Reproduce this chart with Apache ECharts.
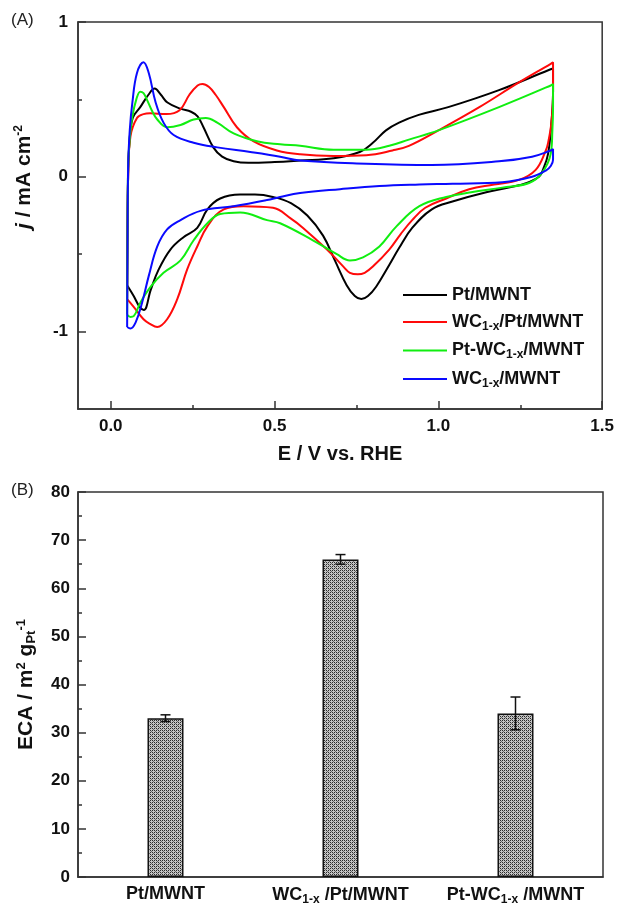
<!DOCTYPE html>
<html>
<head>
<meta charset="utf-8">
<script src="https://cdn.jsdelivr.net/npm/echarts@6/dist/echarts.min.js"></script>
<style>
  html, body { margin: 0; padding: 0; background: #fff; }
  #chart { width: 617px; height: 906px; }
</style>
</head>
<body>
<div id="chart"></div>
<script>
// (A) cyclic voltammograms, [E / V, j / mA cm-2], anodic sweep then cathodic sweep
const ptMwnt = [
  [0.05, -0.70], [0.051, -0.35], [0.053, 0.0], [0.057, 0.22], [0.067, 0.38], [0.09, 0.45], [0.115, 0.53],
  [0.134, 0.57], [0.153, 0.53], [0.173, 0.48], [0.213, 0.44], [0.245, 0.42], [0.265, 0.39], [0.283, 0.32],
  [0.313, 0.19], [0.34, 0.13], [0.375, 0.10], [0.42, 0.09], [0.5, 0.095], [0.578, 0.105], [0.68, 0.12],
  [0.76, 0.16], [0.8, 0.22], [0.84, 0.30], [0.88, 0.35], [0.94, 0.40], [1.03, 0.45], [1.185, 0.56],
  [1.337, 0.69], [1.35, 0.70],
  [1.35, 0.55], [1.345, 0.35], [1.335, 0.15], [1.32, 0.05], [1.307, 0.0], [1.27, -0.04], [1.246, -0.055],
  [1.146, -0.10], [1.043, -0.16], [0.98, -0.21], [0.92, -0.33], [0.88, -0.46], [0.85, -0.57], [0.81, -0.71],
  [0.785, -0.77], [0.765, -0.79], [0.745, -0.77], [0.72, -0.70], [0.684, -0.54], [0.648, -0.38], [0.60, -0.25],
  [0.55, -0.17], [0.495, -0.13], [0.44, -0.115], [0.395, -0.115], [0.334, -0.14], [0.295, -0.21], [0.264, -0.33],
  [0.222, -0.39], [0.182, -0.47], [0.146, -0.60], [0.122, -0.73], [0.101, -0.86], [0.088, -0.84], [0.07, -0.77],
  [0.05, -0.70]
];
const wcPtMwnt = [
  [0.05, -0.79], [0.051, -0.4], [0.053, 0.0], [0.06, 0.26], [0.08, 0.38], [0.10, 0.405], [0.12, 0.41],
  [0.17, 0.405], [0.21, 0.43], [0.24, 0.53], [0.265, 0.59], [0.28, 0.60], [0.30, 0.58], [0.32, 0.53],
  [0.345, 0.45], [0.385, 0.32], [0.435, 0.23], [0.507, 0.17], [0.578, 0.145], [0.68, 0.135], [0.78, 0.14],
  [0.86, 0.17], [0.91, 0.20], [1.0, 0.30], [1.125, 0.45], [1.246, 0.61], [1.343, 0.73], [1.35, 0.74],
  [1.35, 0.55], [1.345, 0.35], [1.335, 0.22], [1.328, 0.17], [1.297, 0.045], [1.246, -0.02], [1.17, -0.05],
  [1.094, -0.08], [1.024, -0.14], [0.96, -0.20], [0.92, -0.28], [0.885, -0.37], [0.85, -0.47], [0.80, -0.58],
  [0.775, -0.62], [0.754, -0.63], [0.73, -0.62], [0.71, -0.58], [0.66, -0.47], [0.587, -0.33], [0.55, -0.27],
  [0.495, -0.20], [0.405, -0.19], [0.345, -0.21], [0.295, -0.32], [0.264, -0.45], [0.233, -0.60], [0.203, -0.79],
  [0.172, -0.92], [0.142, -0.97], [0.12, -0.95], [0.10, -0.92], [0.07, -0.84], [0.05, -0.79]
];
const ptWcMwnt = [
  [0.05, -0.89], [0.051, -0.4], [0.053, 0.06], [0.058, 0.25], [0.066, 0.39], [0.078, 0.50], [0.09, 0.55],
  [0.10, 0.54], [0.11, 0.50], [0.125, 0.43], [0.142, 0.37], [0.172, 0.32], [0.213, 0.335], [0.253, 0.37],
  [0.29, 0.38], [0.325, 0.35], [0.375, 0.28], [0.446, 0.23], [0.517, 0.21], [0.578, 0.20], [0.68, 0.175],
  [0.78, 0.175], [0.85, 0.20], [0.91, 0.24], [1.0, 0.30], [1.185, 0.45], [1.343, 0.59], [1.35, 0.60],
  [1.35, 0.45], [1.348, 0.30], [1.343, 0.15], [1.316, 0.025], [1.277, -0.04], [1.195, -0.07], [1.1, -0.10],
  [1.024, -0.13], [0.942, -0.19], [0.872, -0.32], [0.82, -0.45], [0.77, -0.52], [0.73, -0.54], [0.69, -0.50],
  [0.617, -0.41], [0.517, -0.30], [0.477, -0.28], [0.395, -0.23], [0.334, -0.24], [0.295, -0.30], [0.253, -0.41],
  [0.213, -0.54], [0.161, -0.62], [0.122, -0.71], [0.091, -0.81], [0.07, -0.90], [0.06, -0.905], [0.05, -0.89]
];
const wcMwnt = [
  [0.05, -0.97], [0.051, -0.5], [0.053, 0.06], [0.058, 0.30], [0.066, 0.48], [0.08, 0.67], [0.10, 0.74],
  [0.116, 0.67], [0.137, 0.48], [0.161, 0.35], [0.192, 0.27], [0.253, 0.22], [0.325, 0.19], [0.426, 0.16],
  [0.517, 0.13], [0.578, 0.105], [0.78, 0.085], [0.98, 0.077], [1.185, 0.10], [1.286, 0.13], [1.343, 0.17],
  [1.35, 0.18],
  [1.35, 0.11], [1.343, 0.07], [1.328, 0.04], [1.286, 0.0], [1.195, -0.035], [1.043, -0.045], [0.942, -0.05],
  [0.82, -0.06], [0.70, -0.08], [0.578, -0.105], [0.517, -0.13], [0.477, -0.15], [0.375, -0.19], [0.274, -0.22],
  [0.213, -0.28], [0.172, -0.34], [0.142, -0.45], [0.116, -0.64], [0.096, -0.81], [0.076, -0.94], [0.06, -0.98],
  [0.05, -0.97]
];
const cvNames = ['Pt/MWNT', 'WC1-x/Pt/MWNT', 'Pt-WC1-x/MWNT', 'WC1-x/MWNT'];
const cvColors = ['#000000', '#ff0a0a', '#10ee10', '#0a0aff'];
const cvData = [ptMwnt, wcPtMwnt, ptWcMwnt, wcMwnt];
const cvXLabels = [0, 0.5, 1.0, 1.5];
const cvXMinor = [0.25, 0.75, 1.25];
const cvYLabels = [-1, 0, 1];
const cvYMinor = [-0.5, 0.5];

// (B) electrochemical surface area
const ecaCategories = ['Pt/MWNT', 'WC1-x/Pt/MWNT', 'Pt-WC1-x/MWNT'];
const ecaValues = [33.0, 66.0, 34.0];
const ecaErrors = [0.7, 1.0, 3.4];

const font = "'Liberation Sans', Arial, sans-serif";
const frame = '#333';
const ink = '#111';

// 'WC1-x' -> rich text with subscript
const richName = (name) => name.replace(/C1-x/, 'C{sub|1-x}');
const richName2 = (name) => name.replace(/C1-x/, 'C{sub|1-x} ');

const subStyle = { fontSize: 12, fontWeight: 'bold', fontFamily: font, color: ink, verticalAlign: 'bottom', padding: [9, 0, 0, 0] };
const supStyle = { fontSize: 12, fontWeight: 'bold', fontFamily: font, color: ink, verticalAlign: 'top', padding: [0, 0, 9, 0] };

// hatched fill for the bars
const pat = document.createElement('canvas');
pat.width = 4;
pat.height = 4;
const pctx = pat.getContext('2d');
pctx.fillStyle = '#c4c4c4';
pctx.fillRect(0, 0, 4, 4);
pctx.fillStyle = '#2a2a2a';
pctx.fillRect(0, 0, 1, 1);
pctx.fillRect(2, 2, 1, 1);
pctx.fillRect(0, 2, 1, 1);
pctx.fillRect(2, 0, 1, 1);
pctx.fillStyle = '#6a6a6a';
pctx.fillRect(1, 1, 1, 1);
pctx.fillRect(3, 3, 1, 1);

const chart = echarts.init(document.getElementById('chart'));

const axisLine = { show: true, onZero: false, lineStyle: { color: frame, width: 1.5 } };
const tickLabel = { color: ink, fontSize: 17, fontWeight: 'bold', fontFamily: font };

const option = {
  animation: false,
  backgroundColor: '#fff',
  textStyle: { fontFamily: font },
  graphic: [
    { type: 'text', left: 11, top: 12, style: { text: '(A)', fontSize: 17, fontFamily: font, fill: '#222' } },
    { type: 'text', left: 11, top: 482, style: { text: '(B)', fontSize: 17, fontFamily: font, fill: '#222' } },
    {
      type: 'text',
      x: 24,
      y: 177,
      rotation: Math.PI / 2,
      style: {
        text: '{i|j} / mA cm{sup|-2}',
        align: 'center',
        verticalAlign: 'middle',
        fontSize: 21,
        fontWeight: 'bold',
        fontFamily: font,
        fill: ink,
        rich: {
          i: { fontSize: 21, fontWeight: 'bold', fontStyle: 'italic', fontFamily: font, fill: ink },
          sup: { fontSize: 12, fontWeight: 'bold', fontFamily: font, fill: ink, verticalAlign: 'top', padding: [0, 0, 10, 0] },
        },
      },
    },
  ],
  legend: {
    data: cvNames,
    orient: 'vertical',
    left: 403,
    top: 286,
    padding: 0,
    icon: 'rect',
    itemWidth: 44,
    itemHeight: 2,
    itemGap: 9,
    formatter: (name) => richName(name),
    textStyle: {
      fontSize: 18,
      fontWeight: 'bold',
      fontFamily: font,
      color: ink,
      padding: [0, 0, 0, 0],
      rich: { sub: subStyle },
    },
  },
  grid: [
    { left: 78, right: 14, top: 22, height: 387, show: true, borderColor: frame, borderWidth: 1.5 },
    { left: 78, right: 14, top: 492, height: 385, show: true, borderColor: frame, borderWidth: 1.5 },
  ],
  xAxis: [
    {
      gridIndex: 0,
      type: 'value',
      min: -0.1,
      max: 1.5,
      axisLine,
      splitLine: { show: false },
      axisTick: { show: true, inside: true, length: 8, lineStyle: { color: frame, width: 1.5 }, customValues: cvXLabels },
      axisLabel: { ...tickLabel, margin: 9, customValues: cvXLabels, formatter: (v) => v.toFixed(1) },
      name: 'E / V vs. RHE',
      nameLocation: 'middle',
      nameGap: 35,
      nameTextStyle: { fontSize: 20, fontWeight: 'bold', fontFamily: font, color: ink },
    },
    {
      gridIndex: 0,
      type: 'value',
      min: -0.1,
      max: 1.5,
      position: 'bottom',
      axisLine: { show: false, onZero: false },
      splitLine: { show: false },
      axisTick: { show: true, inside: true, length: 4, lineStyle: { color: frame, width: 1.5 }, customValues: cvXMinor },
      axisLabel: { show: false },
    },
    {
      gridIndex: 1,
      type: 'category',
      data: ecaCategories,
      axisLine,
      axisTick: { show: false },
      axisLabel: {
        ...tickLabel,
        fontSize: 18,
        margin: 8,
        interval: 0,
        formatter: (name) => richName2(name),
        rich: { sub: subStyle },
      },
    },
  ],
  yAxis: [
    {
      gridIndex: 0,
      type: 'value',
      min: -1.5,
      max: 1,
      axisLine,
      splitLine: { show: false },
      axisTick: { show: true, inside: true, length: 8, lineStyle: { color: frame, width: 1.5 }, customValues: cvYLabels },
      axisLabel: { ...tickLabel, margin: 10, customValues: cvYLabels },
    },
    {
      gridIndex: 0,
      type: 'value',
      min: -1.5,
      max: 1,
      position: 'left',
      axisLine: { show: false, onZero: false },
      splitLine: { show: false },
      axisTick: { show: true, inside: true, length: 4, lineStyle: { color: frame, width: 1.5 }, customValues: cvYMinor },
      axisLabel: { show: false },
    },
    {
      gridIndex: 1,
      type: 'value',
      min: 0,
      max: 80,
      interval: 10,
      axisLine,
      splitLine: { show: false },
      axisTick: { show: true, inside: true, length: 8, lineStyle: { color: frame, width: 1.5 } },
      minorTick: { show: true, splitNumber: 2, length: 4, lineStyle: { color: frame, width: 1.5 } },
      axisLabel: { ...tickLabel, margin: 8 },
      name: 'ECA / m{sup|2} g{sub|Pt}{sup|-1}',
      nameLocation: 'middle',
      nameRotate: 90,
      nameGap: 40,
      nameTextStyle: {
        fontSize: 21,
        fontWeight: 'bold',
        fontFamily: font,
        color: ink,
        rich: {
          sup: { ...supStyle, fontSize: 13, padding: [0, 0, 10, 0] },
          sub: { ...subStyle, fontSize: 13, padding: [10, 0, 0, 0] },
        },
      },
    },
  ],
  series: [
    ...cvNames.map((name, i) => ({
      name,
      type: 'line',
      xAxisIndex: 0,
      yAxisIndex: 0,
      data: cvData[i],
      smooth: 0.4,
      symbol: 'none',
      lineStyle: { color: cvColors[i], width: 2 },
      itemStyle: { color: cvColors[i] },
      z: 2 + i,
    })),
    {
      type: 'bar',
      xAxisIndex: 2,
      yAxisIndex: 2,
      data: ecaValues,
      barWidth: 36,
      itemStyle: {
        color: { image: pat, repeat: 'repeat' },
        borderColor: ink,
        borderWidth: 1.5,
      },
    },
    {
      type: 'custom',
      xAxisIndex: 2,
      yAxisIndex: 2,
      data: ecaValues.map((v, i) => [i, v - ecaErrors[i], v + ecaErrors[i]]),
      renderItem: (params, api) => {
        const lo = api.coord([api.value(0), api.value(1)]);
        const hi = api.coord([api.value(0), api.value(2)]);
        const w = 5;
        const style = { stroke: ink, lineWidth: 1.5 };
        return {
          type: 'group',
          children: [
            { type: 'line', shape: { x1: lo[0], y1: lo[1], x2: hi[0], y2: hi[1] }, style },
            { type: 'line', shape: { x1: lo[0] - w, y1: lo[1], x2: lo[0] + w, y2: lo[1] }, style },
            { type: 'line', shape: { x1: hi[0] - w, y1: hi[1], x2: hi[0] + w, y2: hi[1] }, style },
          ],
        };
      },
      z: 5,
    },
  ],
};

chart.setOption(option);

window.addEventListener('resize', () => {
  chart && chart.resize();
});
</script>
</body>
</html>
